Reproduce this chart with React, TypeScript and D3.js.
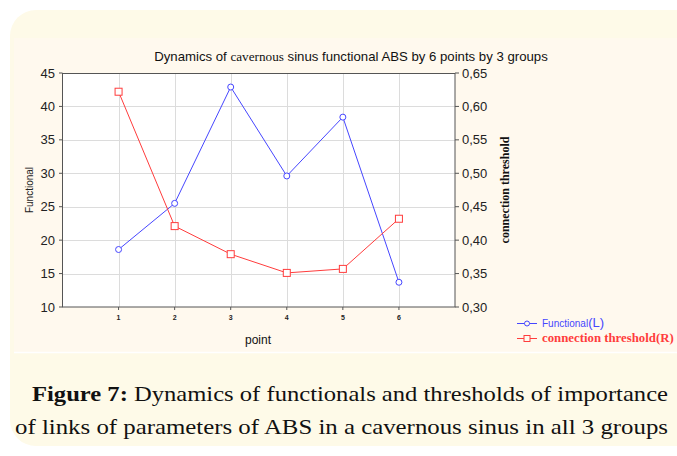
import React from "react";
import * as d3 from "d3";

const points = [1, 2, 3, 4, 5, 6];
const functional = [18.6, 25.5, 42.9, 29.6, 38.4, 13.7];
const threshold = [0.622, 0.421, 0.379, 0.351, 0.357, 0.432];
const leftTicks = [10, 15, 20, 25, 30, 35, 40, 45];
const rightTicks = [0.3, 0.35, 0.4, 0.45, 0.5, 0.55, 0.6, 0.65];

export default function App() {
  const W = 677, H = 456;
  const x = d3.scaleLinear().domain([0, 7]).range([62.5, 455]);
  const yL = d3.scaleLinear().domain([10, 45]).range([307, 73]);
  const yR = d3.scaleLinear().domain([0.3, 0.65]).range([307, 73]);
  const lineL = d3.line<number>().x((_, i) => x(points[i])).y((d) => yL(d));
  const lineR = d3.line<number>().x((_, i) => x(points[i])).y((d) => yR(d));
  const blue = "#4646ff";
  const red = "#ff3c3c";
  const fmt = (v: number) => v.toFixed(2).replace(".", ",");
  return (
    <svg width={W} height={H} style={{ position: "absolute", left: 0, top: 0 }}>
      <rect x={0} y={0} width={W} height={H} fill="#ffffff" />
      <rect x={10} y={10} width={W + 30} height={H - 20} rx={26} fill="#fefae8" />
      <rect x={14} y={38} width={W - 14} height={314} fill="#fff9ee" />
      <line x1={14} x2={W} y1={352.5} y2={352.5} stroke="#ffffff" strokeWidth={1.5} />
      {/* plot area */}
      <rect x={62.5} y={73} width={455 - 62.5} height={234} fill="#ffffff" />
      {leftTicks.slice(1, -1).map((t) => (
        <line key={"gh" + t} x1={62.5} x2={455} y1={Math.round(yL(t)) + 0.5} y2={Math.round(yL(t)) + 0.5} stroke="#dcdcdc" />
      ))}
      {points.map((p) => (
        <line key={"gv" + p} x1={Math.round(x(p)) + 0.5} x2={Math.round(x(p)) + 0.5} y1={73} y2={307} stroke="#dcdcdc" />
      ))}
      <rect x={62.5} y={73.5} width={455 - 62.5} height={233.5} fill="none" stroke="#555" strokeWidth={1} />
      {/* ticks */}
      {leftTicks.map((t) => (
        <g key={"lt" + t}>
          <line x1={59} x2={62.5} y1={yL(t)} y2={yL(t)} stroke="#555" />
          <text x={55} y={yL(t) + 4.5} textAnchor="end" fontFamily="Liberation Sans, Arial" fontSize={13} fill="#222">{t}</text>
        </g>
      ))}
      {rightTicks.map((t) => (
        <g key={"rt" + t}>
          <line x1={455} x2={459} y1={yR(t)} y2={yR(t)} stroke="#555" />
          <text x={462} y={yR(t) + 4.5} fontFamily="Liberation Sans, Arial" fontSize={13} fill="#222">{fmt(t)}</text>
        </g>
      ))}
      {points.map((p) => (
        <g key={"xt" + p}>
          <line x1={x(p)} x2={x(p)} y1={307} y2={310} stroke="#555" />
          <text x={x(p)} y={320} textAnchor="middle" fontFamily="Liberation Sans, Arial" fontSize={7} fontWeight="bold" fill="#222">{p}</text>
        </g>
      ))}
      {/* titles */}
      <text x={351} y={61} textAnchor="middle" fontFamily="Liberation Sans, Arial" fontSize={13.2} fill="#111">
        Dynamics of <tspan fontFamily="Liberation Serif, Times New Roman">cavernous</tspan> sinus functional ABS by 6 points by 3 groups
      </text>
      <text x={258} y={344} textAnchor="middle" fontFamily="Liberation Sans, Arial" fontSize={12} fill="#111">point</text>
      <text transform="translate(33,190) rotate(-90)" textAnchor="middle" fontFamily="Liberation Sans, Arial" fontSize={10} fill="#222">Functional</text>
      <text transform="translate(509,190) rotate(-90)" textAnchor="middle" fontFamily="Liberation Serif, Times New Roman" fontSize={12} fontWeight="bold" fill="#111">connection threshold</text>
      {/* series */}
      <path d={lineL(functional) || ""} fill="none" stroke={blue} strokeWidth={1} />
      <path d={lineR(threshold) || ""} fill="none" stroke={red} strokeWidth={1} />
      {functional.map((v, i) => (
        <circle key={"c" + i} cx={x(points[i])} cy={yL(v)} r={3} fill="#ffffff" stroke={blue} strokeWidth={1} />
      ))}
      {threshold.map((v, i) => (
        <rect key={"s" + i} x={x(points[i]) - 3.5} y={yR(v) - 3.5} width={7} height={7} fill="#ffffff" stroke={red} strokeWidth={1} />
      ))}
      {/* legend */}
      <line x1={517} x2={537} y1={323.5} y2={323.5} stroke={blue} />
      <circle cx={527} cy={323.5} r={2.5} fill="#fff9ee" stroke={blue} />
      <text x={542} y={327} fontFamily="Liberation Sans, Arial" fontSize={10} fill={blue}>
        Functional<tspan fontSize={13}>(L)</tspan>
      </text>
      <line x1={517} x2={537} y1={338.5} y2={338.5} stroke={red} />
      <rect x={524} y={335.5} width={6} height={6} fill="#fff9ee" stroke={red} />
      <text x={542} y={342} fontFamily="Liberation Serif, Times New Roman" fontSize={12.8} fontWeight="bold" fill={red}>connection threshold(R)</text>
      {/* caption */}
      <text x={32} y={401} fontFamily="Liberation Serif, Times New Roman" fontSize={22} fill="#111" textLength={636} lengthAdjust="spacingAndGlyphs">
        <tspan fontWeight="bold">Figure 7:</tspan> Dynamics of functionals and thresholds of importance
      </text>
      <text x={15} y={434} fontFamily="Liberation Serif, Times New Roman" fontSize={22} fill="#111" textLength={653} lengthAdjust="spacingAndGlyphs">
        of links of parameters of ABS in a cavernous sinus in all 3 groups
      </text>
    </svg>
  );
}
